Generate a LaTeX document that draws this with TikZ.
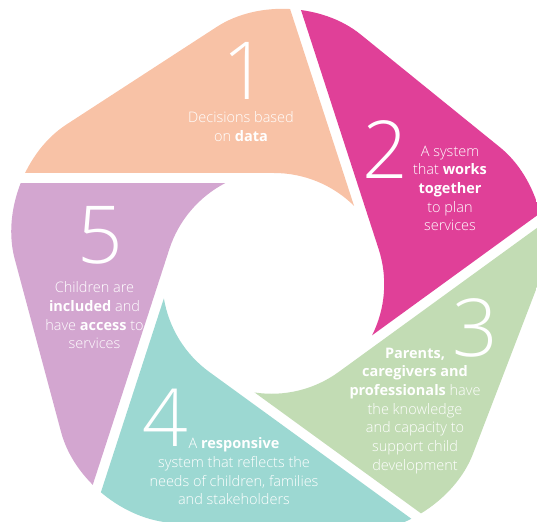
\documentclass[tikz,border=0pt]{standalone}
\usepackage{fontspec}
\setmainfont{Open Sans}[UprightFont=* Light, BoldFont=* Bold]
\usepackage{tikz}
\definecolor{peachfill}{HTML}{F8C2A6}
\definecolor{pinkfill}{HTML}{E04098}
\definecolor{greenfill}{HTML}{C2DCB4}
\definecolor{tealfill}{HTML}{9CD8D2}
\definecolor{lilacfill}{HTML}{D3A6D0}
\tikzstyle{digit} = [text=white, inner sep=0pt, font=\fontsize{80}{80}\selectfont]
\tikzstyle{blurb} = [text=white, align=center, inner sep=0pt, anchor=north, font=\fontsize{14.5}{18.7}\selectfont]

\begin{document}
\begin{tikzpicture}[x=1pt, y=1pt]
	\useasboundingbox (-274, -238) rectangle (263, 283);
	\begin{scope}
		\clip[shift={(1.5, 1)}, rounded corners=89pt] (87:304) -- (15:304) -- (-57:304) -- (-129:304) -- (159:304) -- cycle;
		% one blade per segment, turned round the hole
		\fill[peachfill] (-500, 110) -- (0, 110) arc[start angle=90, end angle=45.4, radius=114pt] -- ++(-154.5, 475.5) -- (-500, 500) -- cycle;
		\fill[pinkfill, rotate=-72] (-500, 110) -- (0, 110) arc[start angle=90, end angle=45.4, radius=114pt] -- ++(-154.5, 475.5) -- (-500, 500) -- cycle;
		\fill[greenfill, rotate=-144] (-500, 110) -- (0, 110) arc[start angle=90, end angle=45.4, radius=114pt] -- ++(-154.5, 475.5) -- (-500, 500) -- cycle;
		\fill[tealfill, rotate=-216] (-500, 110) -- (0, 110) arc[start angle=90, end angle=45.4, radius=114pt] -- ++(-154.5, 475.5) -- (-500, 500) -- cycle;
		\fill[lilacfill, rotate=-288] (-500, 110) -- (0, 110) arc[start angle=90, end angle=45.4, radius=114pt] -- ++(-154.5, 475.5) -- (-500, 500) -- cycle;
	\end{scope}
	\node[digit] (d1) at (-29, 212) {1};
	\node[blurb] (t1) at (-33, 171.5) {Decisions based\\on \textbf{data}};
	\node[digit] (d2) at (111, 133) {2};
	\node[blurb] (t2) at (176, 137.5) {A system\\that \textbf{works}\\\textbf{together}\\to plan\\services};
	\node[digit] (d3) at (201, -45) {3};
	\node[blurb] (t3) at (141, -64.5) {\textbf{Parents,}\\\textbf{caregivers and}\\\textbf{professionals} have\\the knowledge\\and capacity to\\support child\\development};
	\node[digit] (d4) at (-109, -135) {4};
	\node[blurb] (t4) at (-40, -154.5) {A \textbf{responsive}\\system that reflects the\\needs of children, families\\and stakeholders};
	\node[digit] (d5) at (-174, 48) {5};
	\node[blurb] (t5) at (-179.5, 1.5) {Children are\\\textbf{included} and\\have \textbf{access} to\\services};
\end{tikzpicture}
\end{document}
